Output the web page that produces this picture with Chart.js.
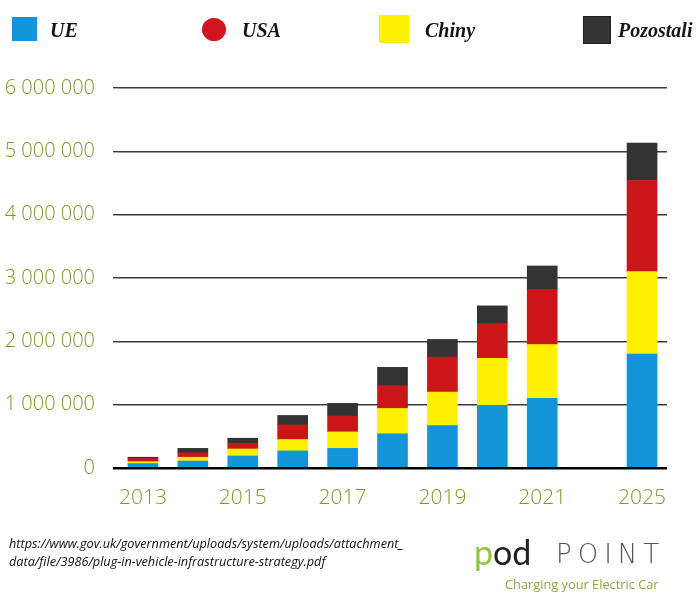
<!DOCTYPE html>
<html>
<head>
<meta charset="utf-8">
<script src="https://cdn.jsdelivr.net/npm/chart.js@4.4.1/dist/chart.umd.min.js"></script>
<style>
  html, body { margin: 0; padding: 0; background: #fff; width: 700px; height: 593px; overflow: hidden; }
  #wrap { position: relative; width: 700px; height: 593px; }
  #c { position: absolute; left: 0; top: 0; }
  .lgt { position: absolute; top: 20px; font-family: "Liberation Serif", "Times New Roman", serif; font-weight: bold; font-style: italic; font-size: 20px; line-height: 20px; color: #151515; white-space: nowrap; }
  .mk { position: absolute; }
  .src { position: absolute; left: 9px; top: 534px; font-family: "Open Sans", "Liberation Sans", sans-serif; font-style: italic; font-size: 12.7px; line-height: 18px; color: #111; white-space: nowrap; }
  .pod { position: absolute; left: 474px; top: 530px; font-family: Lato, "DejaVu Sans", sans-serif; font-weight: 400; font-size: 34px; line-height: 44px; letter-spacing: 0px; color: #222; white-space: nowrap; }
  .point { position: absolute; left: 556px; top: 539px; font-family: "DejaVu Sans", sans-serif; font-weight: 200; font-size: 26px; line-height: 30px; letter-spacing: 6px; color: #555; white-space: nowrap; }
  .tag { position: absolute; left: 505px; top: 576px; font-family: "Open Sans", sans-serif; font-size: 12.8px; line-height: 16px; color: #8aab3c; white-space: nowrap; }
</style>
</head>
<body>
<div id="wrap">
  <canvas id="c" width="700" height="593" style="width:700px;height:593px;"></canvas>

  <div class="mk" style="left:12px;top:17px;width:25px;height:24px;background:#1495d9;"></div>
  <div class="lgt" style="left:50px;">UE</div>
  <div class="mk" style="left:202px;top:18px;width:24px;height:23px;border-radius:50%;background:#d0151c;"></div>
  <div class="lgt" style="left:242px;">USA</div>
  <div class="mk" style="left:379px;top:15px;width:30px;height:28px;background:#fff100;"></div>
  <div class="lgt" style="left:425px;">Chiny</div>
  <div class="mk" style="left:583px;top:16px;width:26px;height:26px;background:#333;border:1px solid #222;"></div>
  <div class="lgt" style="left:618px;">Pozostali</div>

  <div class="src">https://www.gov.uk/government/uploads/system/uploads/attachment_<br>data/file/3986/plug-in-vehicle-infrastructure-strategy.pdf</div>
  <div class="pod"><span style="color:#8dc63f">p</span>od</div>
  <div class="point">POINT</div>
  <div class="tag">Charging your Electric Car</div>
</div>

<script>
// Categories (an empty slot separates 2021 from 2025, as in the original)
const categories = ['2013', '2014', '2015', '2016', '2017', '2018', '2019', '2020', '2021', '', '2025'];
const xTickLabels = ['2013', '2015', '2017', '2019', '2021', '2025'];

// Series values (number of vehicles)
const ue        = [70000, 110000, 190000, 270000, 310000, 540000, 670000, 990000, 1100000, null, 1800000];
const chiny     = [30000,  60000, 110000, 180000, 260000, 400000, 530000, 740000,  850000, null, 1300000];
const usa       = [50000,  70000,  90000, 230000, 250000, 360000, 550000, 550000,  870000, null, 1440000];
const pozostali = [20000,  70000,  80000, 150000, 200000, 290000, 280000, 280000,  370000, null,  590000];

// Y tick labels
const yTickValues = [0, 1000000, 2000000, 3000000, 4000000, 5000000, 6000000];
const yTickLabels = ['0', '1 000 000', '2 000 000', '3 000 000', '4 000 000', '5 000 000', '6 000 000'];

const green = '#7c9c28';

new Chart(document.getElementById('c'), {
  type: 'bar',
  data: {
    labels: categories,
    datasets: [
      { label: 'UE', data: ue, backgroundColor: '#1495d9' },
      { label: 'Chiny', data: chiny, backgroundColor: '#fff100' },
      { label: 'USA', data: usa, backgroundColor: '#cc1519' },
      { label: 'Pozostali', data: pozostali, backgroundColor: '#333333' }
    ]
  },
  options: {
    responsive: false,
    animation: false,
    layout: { padding: { left: 0, top: 88, right: 33, bottom: 0 } },
    plugins: { legend: { display: false }, tooltip: { enabled: false } },
    datasets: { bar: { barThickness: 30, borderWidth: 0 } },
    scales: {
      x: {
        stacked: true,
        offset: true,
        grid: { display: false, drawTicks: false, tickLength: 0 },
        border: { display: false },
        ticks: {
          autoSkip: false,
          maxRotation: 0,
          padding: 17,
          color: green,
          font: { family: 'Open Sans', size: 21, weight: 300 },
          callback: function (v, i) {
            const l = categories[i];
            return xTickLabels.includes(l) ? l : '';
          }
        },
        afterFit: function (s) { s.height = 125; }
      },
      y: {
        stacked: true,
        min: 0,
        max: 6000000,
        border: { display: false },
        afterBuildTicks: function (s) { s.ticks = yTickValues.map(v => ({ value: v })); },
        ticks: {
          padding: 18,
          color: green,
          font: { family: 'Open Sans', size: 20, weight: 300 },
          callback: function (v) {
            const i = yTickValues.indexOf(v);
            return i >= 0 ? yTickLabels[i] : '';
          }
        },
        grid: {
          tickLength: 5,
          color: c => (c.tick && c.tick.value === 0) ? '#000' : '#3a3a3a',
          lineWidth: c => (c.tick && c.tick.value === 0) ? 2.5 : 1.4
        },
        afterFit: function (s) { s.width = 118; }
      }
    }
  }
});
</script>
</body>
</html>
